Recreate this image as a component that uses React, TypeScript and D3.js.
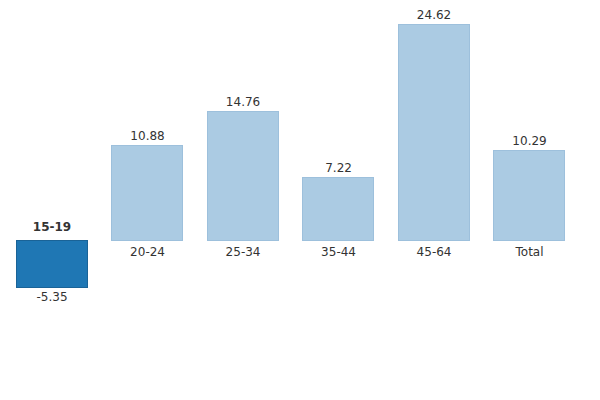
import React, { useEffect, useRef } from 'react';
import * as d3 from 'd3';

const categories = ['15-19', '20-24', '25-34', '35-44', '45-64', 'Total'];
const values = [-5.35, 10.88, 14.76, 7.22, 24.62, 10.29];
const highlighted = ['15-19'];

const width = 600;
const height = 400;

const App: React.FC = () => {
    const svgRef = useRef<SVGSVGElement>(null);

    useEffect(() => {
        if (!svgRef.current) return;
        const svg = d3.select(svgRef.current);
        svg.selectAll('*').remove();

        const x = d3.scaleBand<string>()
            .domain(categories)
            .range([4.3, 577.3])
            .paddingInner(0.245)
            .paddingOuter(0.1225);

        const y = d3.scaleLinear()
            .domain([0, d3.max(values) || 1])
            .range([240, 24]);

        const rows = categories.map((c, i) => ({ c, v: values[i], hi: highlighted.includes(c) }));
        const bw = Math.round(x.bandwidth()) - 1;

        const g = svg.append('g');

        // Bars (half-pixel offset keeps the 1px outline crisp)
        g.selectAll('rect')
            .data(rows)
            .enter()
            .append('rect')
            .attr('x', d => Math.round(x(d.c)!) + 0.5)
            .attr('width', bw)
            .attr('y', d => Math.round(Math.min(y(d.v), y(0))) + 0.5)
            .attr('height', d => Math.round(Math.abs(y(d.v) - y(0))))
            .attr('fill', d => d.hi ? '#1f77b4' : '#abcbe3')
            .attr('stroke', d => d.hi ? '#1a6397' : '#9dc0dc')
            .attr('stroke-width', 1);

        const font = '"DejaVu Sans", Verdana, sans-serif';

        // Value labels
        g.selectAll('text.value')
            .data(rows)
            .enter()
            .append('text')
            .attr('class', 'value')
            .attr('x', d => x(d.c)! + x.bandwidth() / 2)
            .attr('y', d => d.v >= 0 ? y(d.v) - 5 : y(d.v) + 14)
            .attr('text-anchor', 'middle')
            .attr('fill', '#333')
            .style('font-family', font)
            .style('font-size', '12px')
            .text(d => d.v.toFixed(2));

        // Category labels
        g.selectAll('text.cat')
            .data(rows)
            .enter()
            .append('text')
            .attr('class', 'cat')
            .attr('x', d => x(d.c)! + x.bandwidth() / 2)
            .attr('y', d => d.v >= 0 ? y(0) + 16 : y(0) - 9)
            .attr('text-anchor', 'middle')
            .attr('fill', '#333')
            .style('font-family', font)
            .style('font-size', '12px')
            .style('font-weight', d => d.hi ? 'bold' : 'normal')
            .text(d => d.c);
    }, []);

    return <svg ref={svgRef} width={width} height={height} style={{ position: 'absolute', left: 0, top: 0 }} />;
};

export default App;
